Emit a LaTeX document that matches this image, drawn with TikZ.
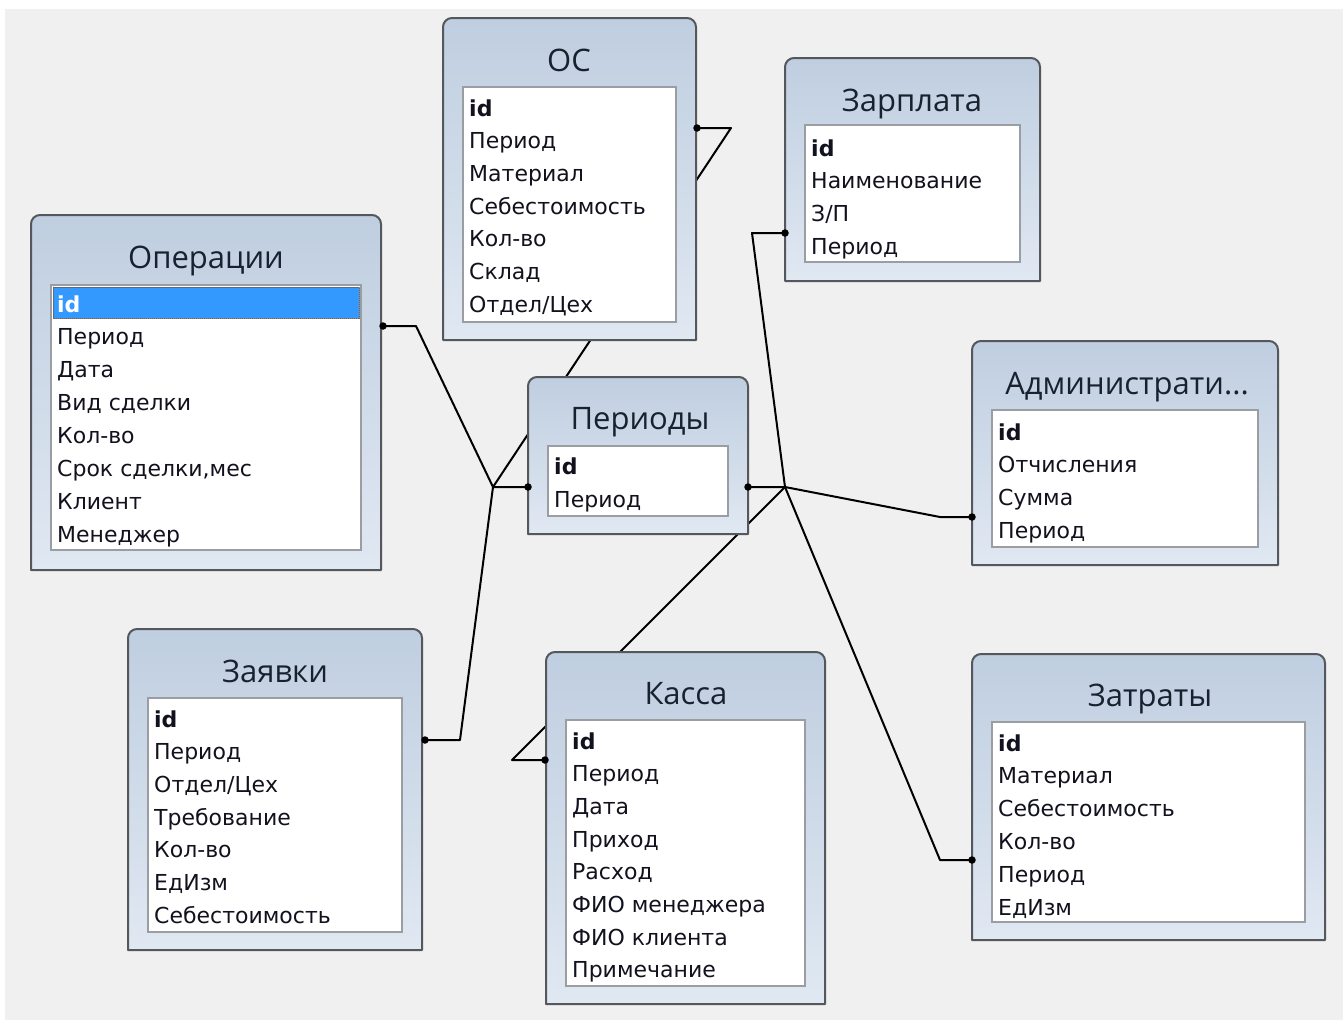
\documentclass[tikz,border=0pt]{standalone}
\usepackage{fontspec}
\setmainfont{DejaVu Sans}
\newfontfamily\titlefont{Open Sans}
\usetikzlibrary{calc,positioning}

\definecolor{bggray}{HTML}{F0F0F0}
\definecolor{framecol}{HTML}{54575B}
\definecolor{hdtop}{HTML}{BFCEE0}
\definecolor{hdbot}{HTML}{E0E8F2}
\definecolor{listcol}{HTML}{9A9DA1}
\definecolor{titlecol}{HTML}{17222E}
\definecolor{fieldcol}{HTML}{12121E}
\definecolor{selblue}{HTML}{3399FF}

% table frame, rounded on top only: x1 y1 x2 y2
\newcommand{\tblframe}[4]{%
  \draw[tframe] (#1,#4) -- (#1,#2+9) arc[start angle=180,end angle=270,radius=9]
    -- (#3-9,#2) arc[start angle=270,end angle=360,radius=9] -- (#3,#4) -- cycle;}

\begin{document}
\begin{tikzpicture}[x=1pt,y=-1pt,line cap=round]
  \tikzstyle{tframe}=[draw=framecol, line width=2pt, line join=round, top color=hdtop, bottom color=hdbot];
  \tikzstyle{tlist}=[draw=listcol, line width=1.3pt, fill=white];
  \tikzstyle{ttitle}=[anchor=base, inner sep=0pt, text=titlecol, font=\titlefont\fontsize{31}{34}\selectfont];
  \tikzstyle{tfield}=[anchor=base west, inner sep=0pt, text=fieldcol, font=\fontsize{22}{24}\selectfont];
  \tikzstyle{tid}=[tfield, font=\bfseries\fontsize{22}{24}\selectfont];
  \tikzstyle{selbox}=[fill=selblue, draw=black!60, densely dotted, line width=1pt];
  \tikzstyle{relline}=[line width=2pt, line join=round];
  \tikzstyle{reldot}=[circle, fill=black, inner sep=0pt, minimum size=7.5pt];

  \fill[white] (0,0) rectangle (1343,1020);
  \fill[bggray] (5,9) rectangle (1343,1020);
  \useasboundingbox (0,0) rectangle (1343,1020);

  % relationship ends and joints
  \coordinate (per-l) at (528,487);
  \coordinate (per-r) at (748,487);
  \coordinate (jl) at (493,487);
  \coordinate (jr) at (785,487);
  \coordinate (op-p) at (383,326);   \coordinate (op-s) at (416,326);
  \coordinate (zv-p) at (425,740);   \coordinate (zv-s) at (460,740);
  \coordinate (os-p) at (697,128);   \coordinate (os-s) at (731,128);
  \coordinate (zp-p) at (785,233);   \coordinate (zp-s) at (752,233);
  \coordinate (adm-p) at (972,517);  \coordinate (adm-s) at (940,517);
  \coordinate (zt-p) at (972,860);   \coordinate (zt-s) at (940,860);
  \coordinate (ks-p) at (545,760);   \coordinate (ks-s) at (512,760);

  \draw[relline] (op-p) -- (op-s) -- (jl) -- (per-l);
  \draw[relline] (zv-p) -- (zv-s) -- (jl);
  \draw[relline] (os-p) -- (os-s) -- (jl);
  \draw[relline] (zp-p) -- (zp-s) -- (jr) -- (per-r);
  \draw[relline] (adm-p) -- (adm-s) -- (jr);
  \draw[relline] (zt-p) -- (zt-s) -- (jr);
  \draw[relline] (ks-p) -- (ks-s) -- (jr);

  % ОС
  \tblframe{443}{18}{696}{340}
  \draw[tlist] (463,87) rectangle (676,322);
  \node[ttitle] (os) at (569,71) {ОС};
  \node[tid] (os-0) at (469,116) {id};
  \foreach \f [count=\i] in {Период,Материал,Себестоимость,Кол-во,Склад,Отдел/Цех}
    \node[tfield] (os-\i) at (469,{116+32.7*\i}) {\f};

  % Зарплата
  \tblframe{785}{58}{1040}{281}
  \draw[tlist] (805,125) rectangle (1020,262);
  \node[ttitle] (zp) at (912,111) {Зарплата};
  \node[tid] (zp-0) at (811,156) {id};
  \foreach \f [count=\i] in {Наименование,З/П,Период}
    \node[tfield] (zp-\i) at (811,{156+32.7*\i}) {\f};

  % Операции
  \tblframe{31}{215}{381}{570}
  \draw[tlist] (51,285) rectangle (361,550);
  \draw[selbox] (53,287) rectangle (359,318);
  \node[ttitle] (op) at (206,268) {Операции};
  \node[tid, text=white] (op-0) at (57,312) {id};
  \foreach \f [count=\i] in {Период,Дата,Вид сделки,Кол-во,{Срок сделки,мес},Клиент,Менеджер}
    \node[tfield] (op-\i) at (57,{312+32.86*\i}) {\f};

  % Периоды
  \tblframe{528}{377}{748}{534}
  \draw[tlist] (548,446) rectangle (728,516);
  \node[ttitle] (per) at (640,429) {Периоды};
  \node[tid] (per-0) at (554,474) {id};
  \node[tfield] (per-1) at (554,507) {Период};

  % Администрати...
  \tblframe{972}{341}{1278}{565}
  \draw[tlist] (992,410) rectangle (1258,547);
  \node[ttitle] (adm) at (1127,394) {Администрати...};
  \node[tid] (adm-0) at (998,440) {id};
  \foreach \f [count=\i] in {Отчисления,Сумма,Период}
    \node[tfield] (adm-\i) at (998,{440+32.7*\i}) {\f};

  % Заявки
  \tblframe{128}{629}{422}{950}
  \draw[tlist] (148,698) rectangle (402,932);
  \node[ttitle] (zv) at (275,682) {Заявки};
  \node[tid] (zv-0) at (154,727) {id};
  \foreach \f [count=\i] in {Период,Отдел/Цех,Требование,Кол-во,ЕдИзм,Себестоимость}
    \node[tfield] (zv-\i) at (154,{727+32.7*\i}) {\f};

  % Касса
  \tblframe{546}{652}{825}{1004}
  \draw[tlist] (566,720) rectangle (805,986);
  \node[ttitle] (ks) at (686,704) {Касса};
  \node[tid] (ks-0) at (572,749) {id};
  \foreach \f [count=\i] in {Период,Дата,Приход,Расход,ФИО менеджера,ФИО клиента,Примечание}
    \node[tfield] (ks-\i) at (572,{749+32.7*\i}) {\f};

  % Затраты
  \tblframe{972}{654}{1325}{940}
  \draw[tlist] (992,722) rectangle (1305,922);
  \node[ttitle] (zt) at (1150,706) {Затраты};
  \node[tid] (zt-0) at (998,751) {id};
  \foreach \f [count=\i] in {Материал,Себестоимость,Кол-во,Период,ЕдИзм}
    \node[tfield] (zt-\i) at (998,{751+32.8*\i}) {\f};

  % dots on the table edges
  \foreach \d in {per-l,per-r,op-p,zv-p,os-p,zp-p,adm-p,zt-p,ks-p}
    \node[reldot] (\d-dot) at (\d) {};
\end{tikzpicture}
\end{document}
